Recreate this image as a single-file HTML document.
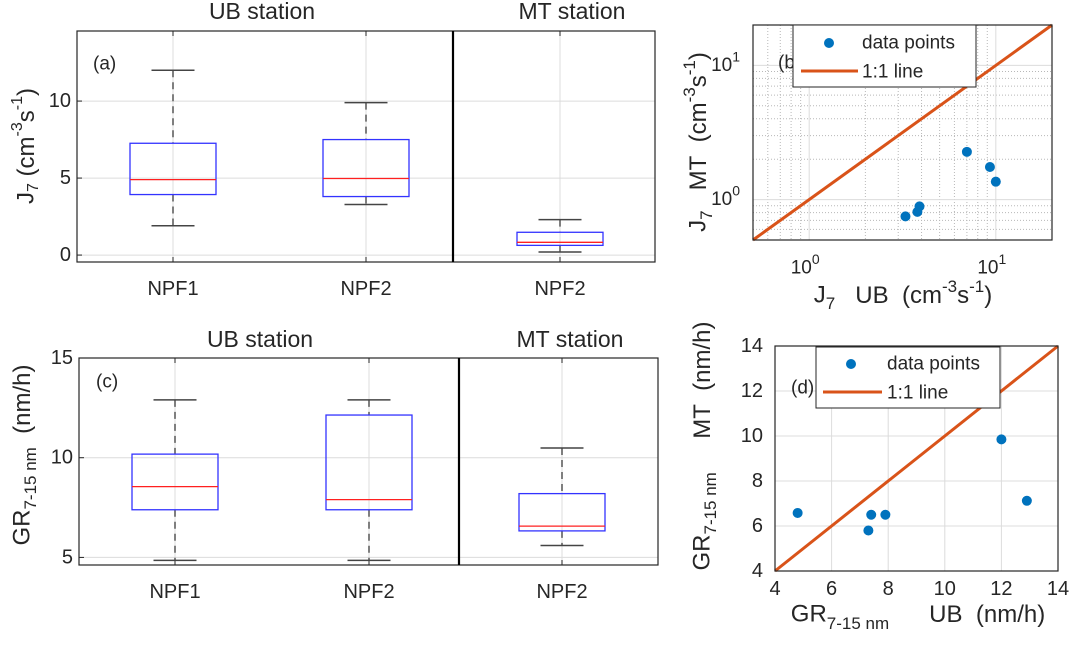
<!DOCTYPE html>
<html><head><meta charset="utf-8"><style>
body{margin:0;background:#fff}
svg{display:block;font-family:"Liberation Sans",Arial,sans-serif;fill:#262626}
</style></head><body>
<svg id="s" width="1072" height="645" viewBox="0 0 1072 645" xmlns="http://www.w3.org/2000/svg"></svg>
<script>
// ---- data ----
const catsA=["NPF1","NPF2","NPF2"];
const boxA_low=[1.9,3.28,0.2];
const boxA_q1=[3.93,3.8,0.63];
const boxA_med=[4.9,4.97,0.83];
const boxA_q3=[7.26,7.5,1.48];
const boxA_high=[12.0,9.9,2.3];
const ticksA=[0,5,10];
const catsC=["NPF1","NPF2","NPF2"];
const boxC_low=[4.85,4.85,5.6];
const boxC_q1=[7.39,7.39,6.33];
const boxC_med=[8.55,7.9,6.57];
const boxC_q3=[10.18,12.14,8.2];
const boxC_high=[12.9,12.9,10.49];
const ticksC=[5,10,15];
const ptsB_x=[3.28,3.8,3.9,7.0,9.3,10.0];
const ptsB_y=[0.75,0.81,0.89,2.27,1.75,1.36];
const ptsD_x=[4.8,7.3,7.4,7.9,12.0,12.9];
const ptsD_y=[6.58,5.8,6.5,6.5,9.85,7.12];
const ticksD=[4,6,8,10,12,14];

const S=document.getElementById('s');
const NS="http://www.w3.org/2000/svg";
function el(t,a,p){const e=document.createElementNS(NS,t);for(const k in a)e.setAttribute(k,a[k]);(p||S).appendChild(e);return e;}
function txt(x,y,s,sz,anchor,name,extra){const e=el('text',Object.assign({x:x,y:y,'font-size':sz,'text-anchor':anchor||'middle','dominant-baseline':'central'},extra||{}));e.innerHTML=s;


return e;}

function boxPanel(o){
  const {L,R,T,B,ymin,ymax,cx,hw,div,cats,low,q1,med,q3,high,ticks,pre}=o;
  const y=v=>B-(v-ymin)/(ymax-ymin)*(B-T);
  const g=el('g',{});
  
  
  ticks.forEach(t=>{const l=el('line',{x1:L,x2:R,y1:y(t),y2:y(t),stroke:'#dcdcdc','stroke-width':1},g);
    
    
    el('line',{x1:L,x2:L+5,y1:y(t),y2:y(t),stroke:'#262626'},g);
    txt(L-6,y(t),t,20,'end','y-tick-label');});
  cx.forEach((c,i)=>{const l=el('line',{x1:c,x2:c,y1:T,y2:B,stroke:'#dcdcdc'},g);
    
    
    el('line',{x1:c,x2:c,y1:B,y2:B-5,stroke:'#262626'},g);
    el('line',{x1:c,x2:c,y1:T,y2:T+5,stroke:'#262626'},g);
    txt(c,o.labY,cats[i],20,'middle','x-tick-label');
    const bg=el('g',{},g);
    
    
    el('line',{x1:c,x2:c,y1:y(high[i]),y2:y(q3[i]),stroke:'#555','stroke-width':1.5,'stroke-dasharray':'7,5'},bg);
    el('line',{x1:c,x2:c,y1:y(q1[i]),y2:y(low[i]),stroke:'#555','stroke-width':1.5,'stroke-dasharray':'7,5'},bg);
    el('line',{x1:c-hw/2,x2:c+hw/2,y1:y(high[i]),y2:y(high[i]),stroke:'#444','stroke-width':1.5},bg);
    el('line',{x1:c-hw/2,x2:c+hw/2,y1:y(low[i]),y2:y(low[i]),stroke:'#444','stroke-width':1.5},bg);
    el('rect',{x:c-hw,y:y(q3[i]),width:2*hw,height:y(q1[i])-y(q3[i]),fill:'none',stroke:'#3333ff','stroke-width':1.3},bg);
    el('line',{x1:c-hw,x2:c+hw,y1:y(med[i]),y2:y(med[i]),stroke:'#ff2020','stroke-width':1.3},bg);
  });
  el('rect',{x:L,y:T,width:R-L,height:B-T,fill:'none',stroke:'#262626','stroke-width':1.2},g);
  const d=el('line',{x1:div,x2:div,y1:T,y2:B,stroke:'#000','stroke-width':2.2},g);
  
  
}

boxPanel({L:77,R:655,T:31,B:262,ymin:-0.45,ymax:14.55,cx:[173,366,560],hw:43,div:453,cats:catsA,low:boxA_low,q1:boxA_q1,med:boxA_med,q3:boxA_q3,high:boxA_high,ticks:ticksA,labY:289,pre:'a'});
boxPanel({L:79,R:658,T:358,B:565,ymin:4.62,ymax:15.0,cx:[175,369,562],hw:43,div:459,cats:catsC,low:boxC_low,q1:boxC_q1,med:boxC_med,q3:boxC_q3,high:boxC_high,ticks:ticksC,labY:592,pre:'c'});

txt(262,11,'UB station',23,'middle','title-ub-a');
txt(572,11,'MT station',23,'middle','title-mt-a');
txt(260,339,'UB station',23,'middle','title-ub-c');
txt(570,339,'MT station',23,'middle','title-mt-c');
txt(93,64,'(a)',19,'start','panel-label-a');
txt(96,382,'(c)',19,'start','panel-label-c');
txt(0,0,'J<tspan dy="7" font-size="16">7</tspan><tspan dy="-7">&#160;(cm</tspan><tspan dy="-9" font-size="16">-3</tspan><tspan dy="9">s</tspan><tspan dy="-9" font-size="16">-1</tspan><tspan dy="9">)</tspan>',24,'middle','y-axis-title-a',{transform:'translate(26,146) rotate(-90)'});
txt(0,0,'GR<tspan dy="8" font-size="17">7-15 nm</tspan><tspan dy="-8">&#160;&#160;(nm/h)</tspan>',24,'middle','y-axis-title-c',{transform:'translate(22,455) rotate(-90)'});

// ---- panel b (log-log) ----
(function(){
  const L=753,R=1052,T=25,B=240,lmin=Math.log10(0.5),lmax=Math.log10(20);
  const x=v=>L+(Math.log10(v)-lmin)/(lmax-lmin)*(R-L);
  const y=v=>B-(Math.log10(v)-lmin)/(lmax-lmin)*(B-T);
  const minors=[0.5,0.6,0.7,0.8,0.9,2,3,4,5,6,7,8,9,20];
  minors.forEach(v=>{
    el('line',{x1:x(v),x2:x(v),y1:T,y2:B,stroke:'#b8b8b8','stroke-dasharray':'1,2'});
    el('line',{x1:L,x2:R,y1:y(v),y2:y(v),stroke:'#b8b8b8','stroke-dasharray':'1,2'});});
  [1,10].forEach((v,i)=>{
    el('line',{x1:x(v),x2:x(v),y1:T,y2:B,stroke:'#dcdcdc'});
    el('line',{x1:L,x2:R,y1:y(v),y2:y(v),stroke:'#dcdcdc'});
    txt(x(v)-4,268,'10<tspan dy="-9" font-size="14">'+i+'</tspan>',19,'middle','x-tick-label-b');
    txt(740,y(v),'10<tspan dy="-9" font-size="14">'+i+'</tspan>',19,'end','y-tick-label-b');});
  const l=el('line',{x1:x(0.5),y1:y(0.5),x2:x(20),y2:y(20),stroke:'#d95319','stroke-width':3});
  
  
  ptsB_x.forEach((v,i)=>{const c=el('circle',{cx:x(v),cy:y(ptsB_y[i]),r:5,fill:'#0072bd'});
    
    });
  el('rect',{x:L,y:T,width:R-L,height:B-T,fill:'none',stroke:'#262626','stroke-width':1.2});
  txt(778,63,'(b)',19,'start','panel-label-b');
  const lg=el('g',{});
  
  
  el('rect',{x:793,y:25,width:183,height:62,fill:'#fff',stroke:'#262626'},lg);
  el('circle',{cx:829,cy:43,r:5,fill:'#0072bd'},lg);
  el('line',{x1:801,x2:858,y1:71,y2:71,stroke:'#d95319','stroke-width':3},lg);
  txt(862,43,'data points',19,'start','legend-entry-data');
  txt(862,72,'1:1 line',19,'start','legend-entry-line');
  txt(903,295,'J<tspan dy="8" font-size="17">7</tspan><tspan dy="-8">&#160;&#160;&#160;UB&#160;&#160;(cm</tspan><tspan dy="-9" font-size="17">-3</tspan><tspan dy="9">s</tspan><tspan dy="-9" font-size="17">-1</tspan><tspan dy="9">)</tspan>',24,'middle','x-axis-title-b');
  txt(0,0,'J<tspan dy="8" font-size="17">7</tspan><tspan dy="-8">&#160;&#160;&#160;MT&#160;&#160;(cm</tspan><tspan dy="-9" font-size="17">-3</tspan><tspan dy="9">s</tspan><tspan dy="-9" font-size="17">-1</tspan><tspan dy="9">)</tspan>',24,'middle','y-axis-title-b',{transform:'translate(698,142) rotate(-90)'});
})();

// ---- panel d ----
(function(){
  const L=775,R=1058,T=346,B=571,mn=4,mx=14;
  const x=v=>L+(v-mn)/(mx-mn)*(R-L);
  const y=v=>B-(v-mn)/(mx-mn)*(B-T);
  ticksD.forEach(t=>{
    el('line',{x1:x(t),x2:x(t),y1:T,y2:B,stroke:'#dcdcdc'});
    el('line',{x1:L,x2:R,y1:y(t),y2:y(t),stroke:'#dcdcdc'});
    txt(x(t),589,t,20,'middle','x-tick-label-d');
    txt(763,y(t),t,20,'end','y-tick-label-d');});
  const l=el('line',{x1:x(4),y1:y(4),x2:x(14),y2:y(14),stroke:'#d95319','stroke-width':3});
  
  
  ptsD_x.forEach((v,i)=>{const c=el('circle',{cx:x(v),cy:y(ptsD_y[i]),r:5,fill:'#0072bd'});
    
    });
  el('rect',{x:L,y:T,width:R-L,height:B-T,fill:'none',stroke:'#262626','stroke-width':1.2});
  txt(791,388,'(d)',19,'start','panel-label-d');
  const lg=el('g',{});
  
  
  el('rect',{x:816,y:347,width:184,height:61,fill:'#fff',stroke:'#262626'},lg);
  el('circle',{cx:851,cy:364,r:5,fill:'#0072bd'},lg);
  el('line',{x1:823,x2:882,y1:392,y2:392,stroke:'#d95319','stroke-width':3},lg);
  txt(887,364,'data points',19,'start','legend-entry-data');
  txt(887,393,'1:1 line',19,'start','legend-entry-line');
  txt(918,614,'GR<tspan dy="9" font-size="17">7-15 nm</tspan><tspan dy="-9">&#160;&#160;&#160;&#160;&#160;&#160;UB&#160;&#160;(nm/h)</tspan>',24,'middle','x-axis-title-d');
  txt(0,0,'GR<tspan dy="8" font-size="17">7-15 nm</tspan><tspan dy="-8">&#160;&#160;&#160;&#160;&#160;MT&#160;&#160;(nm/h)</tspan>',24,'middle','y-axis-title-d',{transform:'translate(702,446) rotate(-90)'});
})();
</script>
</body></html>
